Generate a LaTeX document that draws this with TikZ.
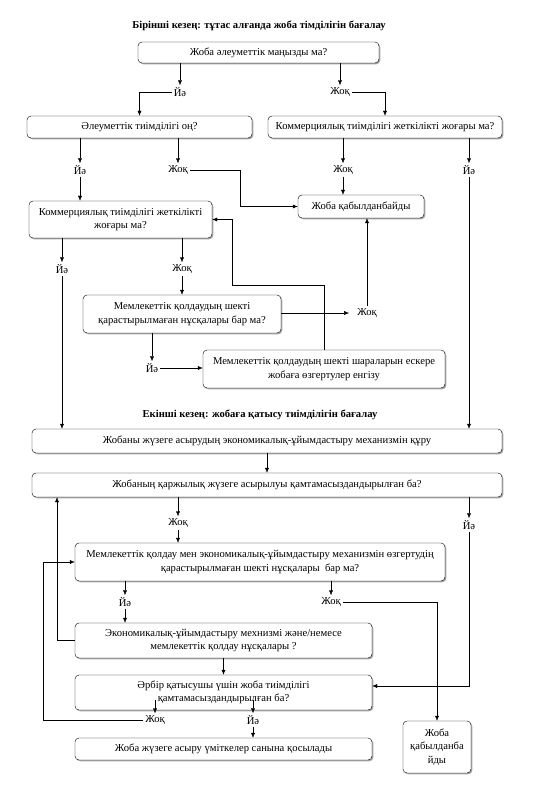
\documentclass[tikz,border=0pt]{standalone}
\usepackage{fontspec}
\setmainfont{Liberation Serif}
\usepackage{tikz}
\usetikzlibrary{calc,arrows.meta,positioning,shadows}

\begin{document}
\begin{tikzpicture}[x=1pt,y=-1pt,>={Latex[length=5pt,width=4pt]},
    font=\fontsize{10.6}{13.6}\selectfont,
    box/.style={draw,thin,rounded corners=4pt,fill=white,align=center,inner sep=1pt,
      drop shadow={shadow xshift=1.3pt,shadow yshift=-1.3pt,fill=gray!70,opacity=1}},
    lbl/.style={inner sep=2pt},
    ttl/.style={font=\fontsize{10.6}{13}\selectfont\bfseries}]
  \useasboundingbox (0,0) rectangle (558,791);
  % first stage
  \node[ttl] (t1) at (259,26) {Бірінші кезең: тұтас алғанда жоба тімділігін бағалау};
  \node[box,minimum width=241,minimum height=21] (q1) at (258.5,52.5) {Жоба әлеуметтік маңызды ма?};
  \node[box,minimum width=225,minimum height=22] (soc) at (139.5,127) {Әлеуметтік тиімділігі оң?};
  \node[box,minimum width=234,minimum height=22] (comA) at (385,127) {Коммерциялық тиімділігі жеткілікті жоғары ма?};
  \node[box,minimum width=183,minimum height=37] (comB) at (120.5,219.5) {Коммерциялық тиімділігі жеткілікті\\жоғары ма?};
  \node[box,minimum width=126,minimum height=23] (rejA) at (361,206.5) {Жоба қабылданбайды};
  \node[box,minimum width=198,minimum height=38] (supA) at (182,314) {Мемлекеттік қолдаудың шекті\\қарастырылмаған нұсқалары бар ма?};
  \node[box,minimum width=242,minimum height=38] (modif) at (324,369) {Мемлекеттік қолдаудың шекті шараларын ескере\\жобаға өзгертулер енгізу};
  \node[lbl] (y1) at (180,92) {Йә};
  \node[lbl] (n1) at (340,92) {Жоқ};
  \node[lbl] (y2) at (80,170) {Йә};
  \node[lbl] (n2) at (178,170) {Жоқ};
  \node[lbl] (n3) at (343,170) {Жоқ};
  \node[lbl] (y3) at (469,170) {Йә};
  \node[lbl] (y4) at (62,269) {Йә};
  \node[lbl] (n4) at (182,269) {Жоқ};
  \node[lbl] (n5) at (367,313) {Жоқ};
  \node[lbl] (y5) at (152,368) {Йә};
  % second stage
  \node[ttl] (t2) at (260,415) {Екінші кезең: жобаға қатысу тиімділігін бағалау};
  \node[box,minimum width=470,minimum height=24] (mech) at (267,441) {Жобаны жүзеге асырудың экономикалық-ұйымдастыру механизмін құру};
  \node[box,minimum width=470,minimum height=24] (fin) at (267,485) {Жобаның қаржылық жүзеге асырылуы қамтамасыздандырылған ба?};
  \node[box,minimum width=370,minimum height=38] (supB) at (260,562) {Мемлекеттік қолдау мен экономикалық-ұйымдастыру механизмін өзгертудің\\қарастырылмаған шекті нұсқалары\ \ бар ма?};
  \node[box,minimum width=297,minimum height=35] (opts) at (223.5,640.5) {Экономикалық-ұйымдастыру мехнизмі және/немесе\\мемлекеттік қолдау нұсқалары ?};
  \node[box,minimum width=297,minimum height=35] (each) at (223.5,692.5) {Әрбір қатысушы үшін жоба тиімділігі\\қамтамасыздандырылған ба?};
  \node[box,minimum width=297,minimum height=22] (acc) at (223.5,749) {Жоба жүзеге асыру үміткелер санына қосылады};
  \node[box,minimum width=68,minimum height=52] (rejB) at (437,747) {Жоба\\қабылданба\\йды};
  \node[lbl] (y6) at (469,525) {Йә};
  \node[lbl] (n6) at (178,523) {Жоқ};
  \node[lbl] (y7) at (125,602) {Йә};
  \node[lbl] (n7) at (331,602) {Жоқ};
  \node[lbl] (n8) at (155,720) {Жоқ};
  \node[lbl] (y8) at (253,720) {Йә};
  \coordinate (k1) at (232,285);
  \coordinate (k2) at (57,0);
  \coordinate (k3) at (43,0);

  % connectors, first stage
  \draw[->] (q1.south -| y1) -- (y1.north);
  \draw[->] (y1.west) -| (soc.north);
  \draw[->] (q1.south -| n1) -- (n1.north);
  \draw[->] (n1.east) -| (comA.north);
  \draw[->] (soc.south -| y2) -- (y2.north);
  \draw[->] (y2.south) -- (y2.south |- comB.north);
  \draw[->] (soc.south -| n2) -- (n2.north);
  \draw[->] (n2.east) -- ++(50,0) |- (rejA.west);
  \draw[->] (comA.south -| n3) -- (n3.north);
  \draw[->] (n3.south) -- (n3.south |- rejA.north);
  \draw[->] (comA.south -| y3) -- (y3.north);
  \draw[->] (y3.south) -- (y3.south |- mech.north);
  \draw[->] (comB.south -| y4) -- (y4.north);
  \draw[->] (y4.south) -- (y4.south |- mech.north);
  \draw[->] (comB.south -| n4) -- (n4.north);
  \draw[->] (n4.south) -- (supA.north);
  \draw[->] (supA.east |- n5) -- ([xshift=-6pt]n5.west);
  \draw[->] (n5.north) -- (n5.north |- rejA.south);
  \draw[->] (supA.south -| y5) -- (y5.north);
  \draw[->] (y5.east) -- (y5.east -| modif.west);
  \draw[->] (modif.north) |- (k1) |- (comB.east);
  % connectors, second stage
  \draw[->] (mech.south) -- (fin.north);
  \draw[->] (fin.south -| n6) -- (n6.north);
  \draw[->] (n6.south) -- (n6.south |- supB.north);
  \draw[->] (fin.south -| y6) -- (y6.north);
  \draw[->] (y6.south) |- ([yshift=6.5pt]each.east);
  \draw[->] (supB.south -| y7) -- (y7.north);
  \draw[->] (y7.south) -- (y7.south |- opts.north);
  \draw[->] (supB.south -| n7) -- (n7.north);
  \draw[->] (n7.east) -| (rejB.north);
  \draw[->] (opts.west) -| (k2 |- fin.south);
  \draw[->] (opts.south) -- (each.north);
  \draw[->] ([yshift=10pt]each.south -| n8) -- (n8.north);
  \draw[->] ([yshift=10pt]each.south -| y8) -- (y8.north);
  \draw[->] (n8.west) -| (k3 |- supB.west) -- (supB.west);
  \draw[->] (y8.south) -- (y8.south |- acc.north);
\end{tikzpicture}
\end{document}
